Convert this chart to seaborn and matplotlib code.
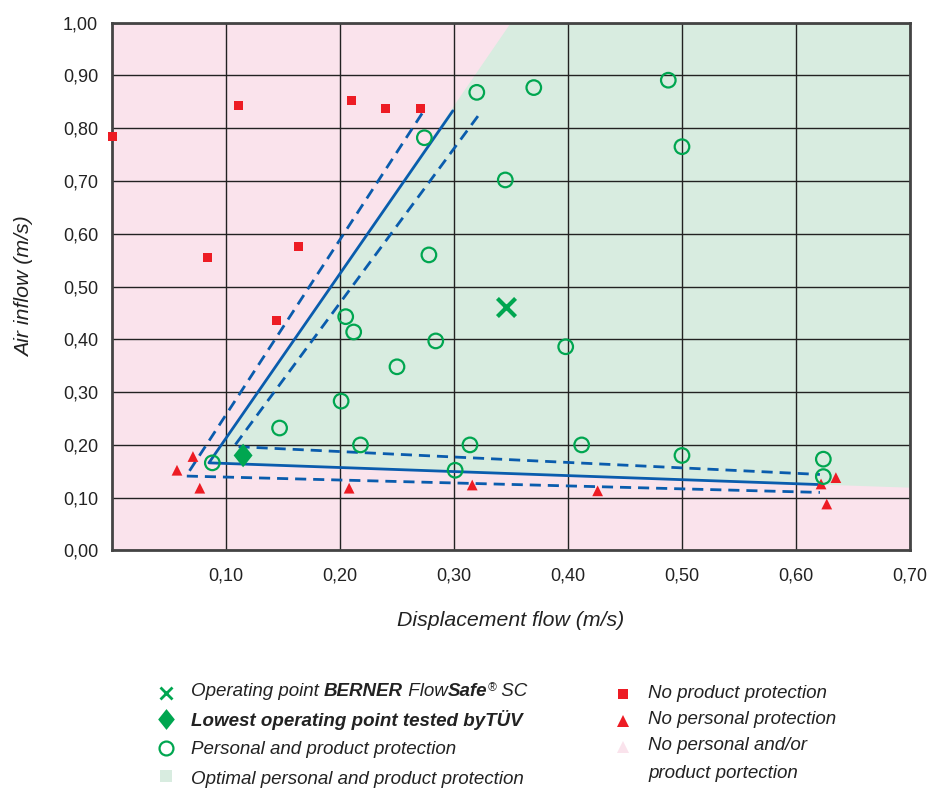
import numpy as np
import pandas as pd
import matplotlib
matplotlib.use("Agg")
import matplotlib.pyplot as plt
from matplotlib.path import Path
import seaborn as sns

sns.set_style("white")
plt.rcParams['font.family'] = ['Liberation Sans', 'DejaVu Sans']

# --- data ---
no_product_x = [0.000, 0.111, 0.210, 0.240, 0.271, 0.084, 0.164, 0.144]
no_product_y = [0.784, 0.844, 0.853, 0.837, 0.837, 0.555, 0.575, 0.435]

no_personal_x = [0.071, 0.057, 0.077, 0.208, 0.316, 0.426, 0.622, 0.635, 0.627]
no_personal_y = [0.178, 0.152, 0.118, 0.118, 0.124, 0.113, 0.126, 0.138, 0.088]

protect_x = [0.320, 0.370, 0.274, 0.345, 0.278, 0.488, 0.500, 0.205, 0.212,
             0.284, 0.250, 0.201, 0.147, 0.218, 0.314, 0.301, 0.088, 0.398,
             0.412, 0.500, 0.624, 0.624]
protect_y = [0.868, 0.877, 0.782, 0.702, 0.560, 0.891, 0.765, 0.443, 0.414,
             0.397, 0.348, 0.283, 0.232, 0.200, 0.200, 0.152, 0.166, 0.386,
             0.200, 0.180, 0.173, 0.140]

operating_x, operating_y = [0.346], [0.461]
lowest_x, lowest_y = [0.115], [0.180]

# limit lines
solid_x = [0.299, 0.085, 0.619]
solid_y = [0.833, 0.166, 0.125]
dash_upper_x = [0.272, 0.065, 0.621]
dash_upper_y = [0.828, 0.141, 0.110]
dash_lower_x = [0.321, 0.107, 0.621]
dash_lower_y = [0.823, 0.197, 0.144]

# optimal zone
zone_x = [0.085, 0.350, 0.700, 0.700, 0.619]
zone_y = [0.166, 1.000, 1.000, 0.119, 0.125]

x_ticks = [0.1, 0.2, 0.3, 0.4, 0.5, 0.6, 0.7]
x_labels = ["0,10", "0,20", "0,30", "0,40", "0,50", "0,60", "0,70"]
y_ticks = [0.0, 0.1, 0.2, 0.3, 0.4, 0.5, 0.6, 0.7, 0.8, 0.9, 1.0]
y_labels = ["0,00", "0,10", "0,20", "0,30", "0,40", "0,50", "0,60",
            "0,70", "0,80", "0,90", "1,00"]

PINK = "#fae3ec"
GREEN_FILL = "#d8ece0"
RED = "#ed1c24"
GREEN = "#00a650"
BLUE = "#0a5cad"
TXT = "#222222"

# wide diamond like the TÜV marker
DIAMOND = Path([(0, 1), (0.8, 0), (0, -1), (-0.8, 0), (0, 1)],
               [Path.MOVETO, Path.LINETO, Path.LINETO, Path.LINETO, Path.CLOSEPOLY])

fig = plt.figure(figsize=(9.42, 7.90), dpi=100)
ax = fig.add_axes([0.1189, 0.3032, 0.8471, 0.6681])
ax.set_facecolor(PINK)
ax.fill(zone_x, zone_y, color=GREEN_FILL, lw=0, zorder=0)

ax.set_xlim(0, 0.70)
ax.set_ylim(0, 1.0)
ax.set_xticks(x_ticks)
ax.set_xticklabels(x_labels)
ax.set_yticks(y_ticks)
ax.set_yticklabels(y_labels)
ax.tick_params(length=0, labelsize=13, labelcolor=TXT)
ax.tick_params(axis="x", pad=12)
ax.tick_params(axis="y", pad=10)
ax.grid(True, color="#222222", lw=1.0)
ax.set_axisbelow(True)
for s in ax.spines.values():
    s.set_color("#444444")
    s.set_linewidth(2)

# lines
sns.lineplot(x=solid_x, y=solid_y, sort=False, color=BLUE, lw=2, ax=ax,
             estimator=None, zorder=3)
for dx, dy in [(dash_upper_x, dash_upper_y), (dash_lower_x, dash_lower_y)]:
    sns.lineplot(x=dx, y=dy, sort=False, color=BLUE, lw=2, ax=ax,
                 estimator=None, dashes=False, zorder=3).lines[-1].set_dashes([4, 2.5])

# points
sns.scatterplot(x=no_product_x, y=no_product_y, marker="s", s=42, color=RED,
                edgecolor="none", ax=ax, zorder=4, clip_on=False)
sns.scatterplot(x=no_personal_x, y=no_personal_y, marker="^", s=60, color=RED,
                edgecolor="none", ax=ax, zorder=4)
sns.scatterplot(x=protect_x, y=protect_y, marker="o", s=110, facecolor="none",
                edgecolor=GREEN, linewidth=1.6, ax=ax, zorder=5)
sns.scatterplot(x=operating_x, y=operating_y, marker="x", s=170, color=GREEN,
                linewidth=3, ax=ax, zorder=5)
sns.scatterplot(x=lowest_x, y=lowest_y, marker=DIAMOND, s=290, color=GREEN,
                edgecolor="none", ax=ax, zorder=5)

ax.set_xlabel("Displacement flow (m/s)", fontsize=15.3, style="italic", color=TXT)
ax.set_ylabel("Air inflow (m/s)", fontsize=15.3, style="italic", color=TXT)
ax.xaxis.set_label_coords(0.5, -0.115)
ax.yaxis.set_label_coords(-0.098, 0.5)

# legend drawn below the plot
W, H = 942, 790
renderer = fig.canvas.get_renderer()
FS = 13.5


def put_runs(px, py, runs):
    x = px
    for txt, weight, sz, dy in runs:
        t = fig.text(x / W, 1 - (py - dy) / H, txt, fontsize=sz, style="italic",
                     weight=weight, color=TXT, va="center", ha="left")
        x += t.get_window_extent(renderer).width


def put_marker(px, py, **kw):
    fig.add_artist(plt.Line2D([px / W], [1 - py / H], transform=fig.transFigure,
                              linestyle="none", **kw))


put_marker(166, 693, marker="x", markersize=9, markeredgewidth=2, color=GREEN)
put_runs(191, 692, [("Operating point ", "normal", FS, 0), ("BERNER", "bold", FS, 0),
                    (" Flow", "normal", FS, 0), ("Safe", "bold", FS, 0),
                    ("®", "normal", 8.5, 4), (" SC", "normal", FS, 0)])
put_marker(166, 719, marker=DIAMOND, markersize=15, color=GREEN, markeredgewidth=0)
put_runs(191, 720, [("Lowest operating point tested byTÜV", "bold", FS, 0)])
put_marker(166, 748, marker="o", markersize=10, markerfacecolor="none",
           markeredgecolor=GREEN, markeredgewidth=1.6)
put_runs(191, 750, [("Personal and product protection", "normal", FS, 0)])
put_marker(166, 776, marker="s", markersize=8, color=GREEN_FILL, markeredgewidth=0)
put_runs(191, 779, [("Optimal personal and product protection", "normal", FS, 0)])

put_marker(623, 694, marker="s", markersize=7, color=RED, markeredgewidth=0)
put_runs(648, 693, [("No product protection", "normal", FS, 0)])
put_marker(623, 721, marker="^", markersize=9, color=RED, markeredgewidth=0)
put_runs(648, 720, [("No personal protection", "normal", FS, 0)])
put_marker(623, 747, marker="^", markersize=9, color=PINK, markeredgewidth=0)
put_runs(648, 746, [("No personal and/or", "normal", FS, 0)])
put_runs(648, 773, [("product portection", "normal", FS, 0)])

fig.savefig("out.png", dpi=100)
